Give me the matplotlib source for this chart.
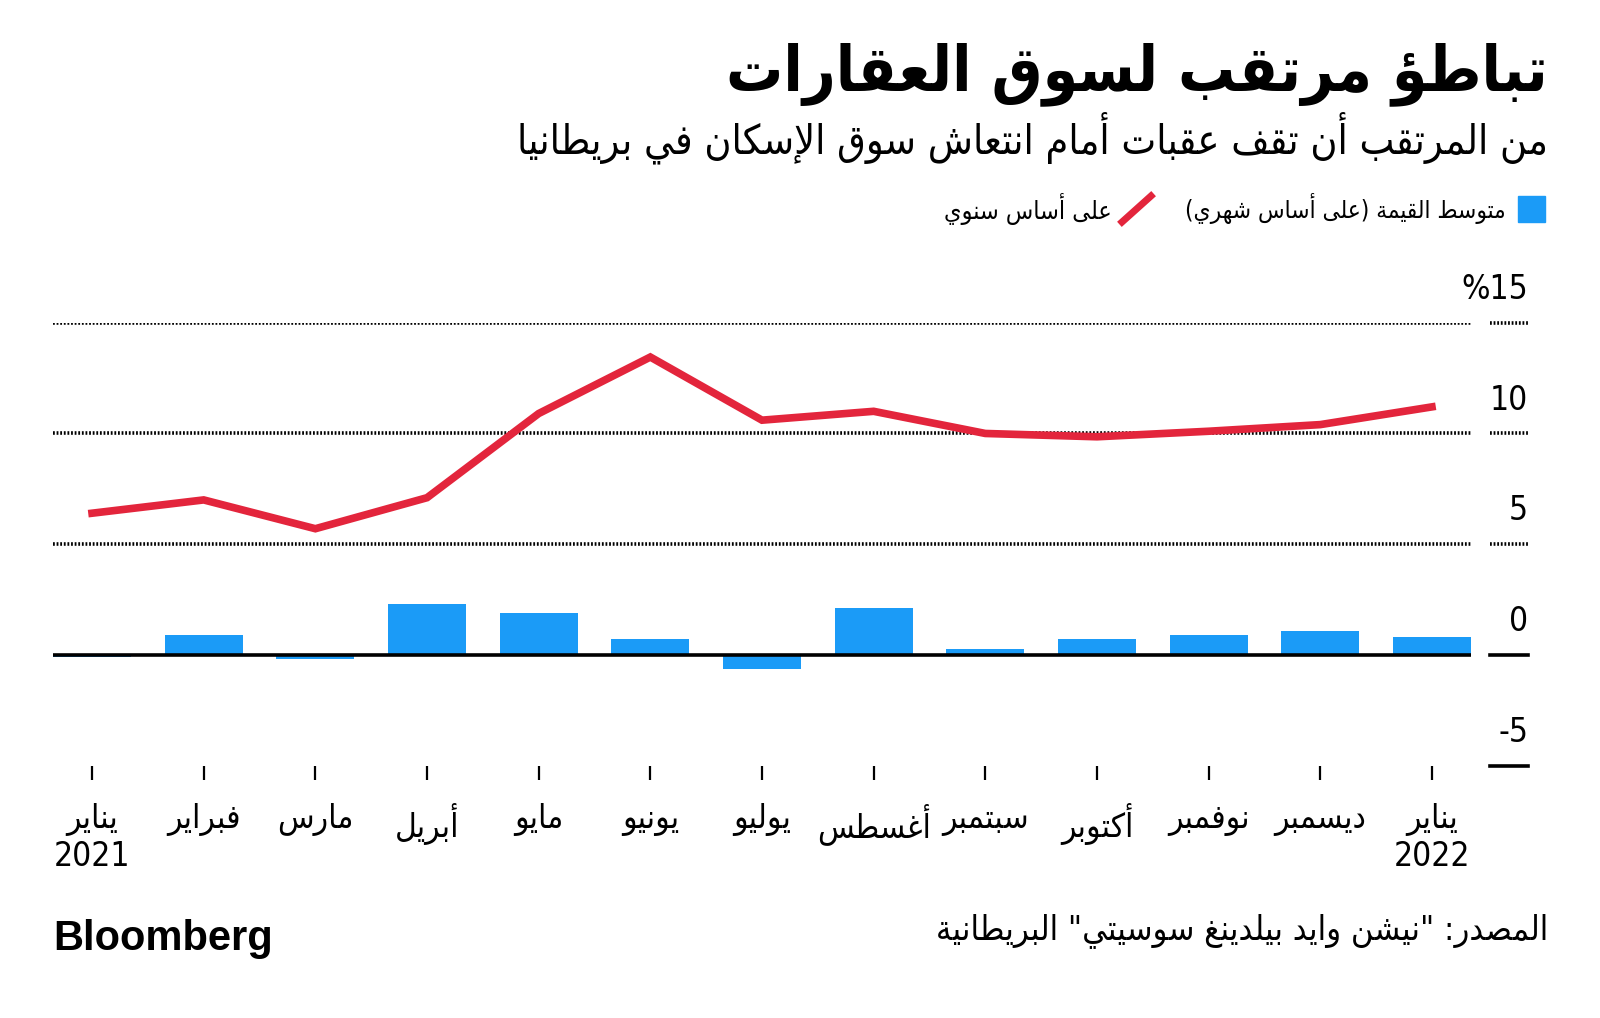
#Imports
import re
import numpy as np
import matplotlib
matplotlib.use('Agg')
import matplotlib.pyplot as plt
import matplotlib.transforms as mtransforms
from matplotlib.patches import Rectangle
from matplotlib.lines import Line2D

#Data
meses = ['يناير\n2021', 'فبراير', 'مارس', 'أبريل', 'مايو', 'يونيو', 'يوليو',
         'أغسطس', 'سبتمبر', 'أكتوبر', 'نوفمبر', 'ديسمبر', 'يناير\n2022']
anual = [6.4, 7.0, 5.7, 7.1, 10.9, 13.45, 10.6, 11.0, 10.0, 9.85, 10.1, 10.4, 11.2]
mensal = [-0.1, 0.9, -0.2, 2.3, 1.9, 0.7, -0.65, 2.1, 0.25, 0.7, 0.9, 1.1, 0.8]
y_ticks = [-5, 0, 5, 10, 15]
y_labels = ['-5', '0', '5', '10', '%15']

titulo = 'تباطؤ مرتقب لسوق العقارات'
subtitulo = 'من المرتقب أن تقف عقبات أمام انتعاش سوق الإسكان في بريطانيا'
leg_mensal = 'متوسط القيمة (على أساس شهري)'
leg_anual = 'على أساس سنوي'
fonte = 'المصدر: "نيشن وايد بيلدينغ سوسيتي" البريطانية'

AZUL = '#1b9bf7'
VERMELHO = '#e3253c'

#Arabic shaping (no raqm in matplotlib, so do it by hand)
AR_LETRAS = 'ءآأؤإئابةتثجحخدذرزسشصضطظعغفقكلمنهوىي'
AR_N = [1] + [2]*4 + [4, 2, 4, 2] + [4]*5 + [2]*4 + [4]*15 + [2, 2, 4]
FORMAS = {}
cod = 0xFE80
for ch, n in zip(AR_LETRAS, AR_N):
    FORMAS[ch] = [chr(cod + k) for k in range(n)]
    cod += n
LAM_ALEF = {'آ': 0xFEF5, 'أ': 0xFEF7, 'إ': 0xFEF9, 'ا': 0xFEFB}


def liga_linha(txt):
    res = []
    i = 0
    while i < len(txt):
        c = txt[i]
        if c not in FORMAS:
            res.append(c)
            i += 1
            continue
        antes = i > 0 and txt[i-1] in FORMAS and len(FORMAS[txt[i-1]]) == 4
        if c == 'ل' and i + 1 < len(txt) and txt[i+1] in LAM_ALEF:
            res.append(chr(LAM_ALEF[txt[i+1]] + int(antes)))
            i += 2
            continue
        f = FORMAS[c]
        depois = len(f) == 4 and i + 1 < len(txt) and txt[i+1] in FORMAS and len(FORMAS[txt[i+1]]) > 1
        if len(f) == 1:
            g = f[0]
        elif antes and depois:
            g = f[3]
        elif antes:
            g = f[1]
        elif depois:
            g = f[2]
        else:
            g = f[0]
        res.append(g)
        i += 1
    espelho = {'(': ')', ')': '('}
    s = ''.join(espelho.get(ch, ch) for ch in reversed(res))
    return re.sub(r'[0-9A-Za-z%.]+', lambda m: m.group(0)[::-1], s)


def ar(txt):
    return '\n'.join(liga_linha(l) for l in txt.split('\n'))


plt.rcParams['font.family'] = ['DejaVu Sans']
plt.rcParams['font.stretch'] = 'condensed'

fig = plt.figure(figsize=(16, 10.18), dpi=100)
ax = fig.add_axes([0.0331, 0.2478, 0.8863, 0.4352])

x = np.arange(len(meses))
ax.bar(x, mensal, width=0.7, color=AZUL, zorder=2)
ax.plot(x, anual, color=VERMELHO, lw=5.5, solid_joinstyle='miter', zorder=4)

ax.set_xlim(-0.35, len(meses) - 0.65)
ax.set_ylim(-5, 15)

# grid lines
trans = mtransforms.blended_transform_factory(ax.transAxes, ax.transData)
for v, lab in zip(y_ticks, y_labels):
    if v == 0:
        ax.axhline(v, color='black', lw=2.6, zorder=3)
    elif v > 0:
        ax.axhline(v, color='black', lw=2.6, ls=(0, (0.5, 0.5)), zorder=1)
    estilo = '-' if v <= 0 else (0, (0.5, 0.5))
    ax.plot([1.0134, 1.0402], [v, v], transform=trans, color='black', lw=2.6,
            ls=estilo, clip_on=False)
    ax.text(1.0402, v + 1.5, lab, transform=trans, ha='right', va='center', fontsize=24)

for s in ax.spines.values():
    s.set_visible(False)
ax.set_yticks([])
ax.set_xticks(x)
ax.set_xticklabels([ar(m) for m in meses], fontsize=24)
ax.tick_params(axis='x', length=10, width=1.6, pad=17)
for t in ax.get_xticklabels():
    t.set_linespacing(1.15)

# titles
fig.text(0.9675, 0.927, ar(titulo), ha='right', va='center', fontsize=45.7, fontweight='bold')
fig.text(0.9675, 0.8644, ar(subtitulo), ha='right', va='center', fontsize=29.6)

# legend
fig.patches.append(Rectangle((0.94875, 0.7819), 0.01685, 0.0256, transform=fig.transFigure,
                             color=AZUL))
fig.lines.append(Line2D([0.70125, 0.7194], [0.7819, 0.8075], transform=fig.transFigure,
                        color=VERMELHO, lw=5))
fig.text(0.94125, 0.7947, ar(leg_mensal), ha='right', va='center', fontsize=17.5)
fig.text(0.695, 0.7947, ar(leg_anual), ha='right', va='center', fontsize=18)

# footer
fig.text(0.9675, 0.0855, ar(fonte), ha='right', va='center', fontsize=24.7)
fig.text(0.033, 0.0776, 'Bloomberg', ha='left', va='center', fontsize=30, fontweight='heavy',
         family='Liberation Sans', stretch='normal')

fig.savefig('out.png', dpi=100, facecolor='white')
